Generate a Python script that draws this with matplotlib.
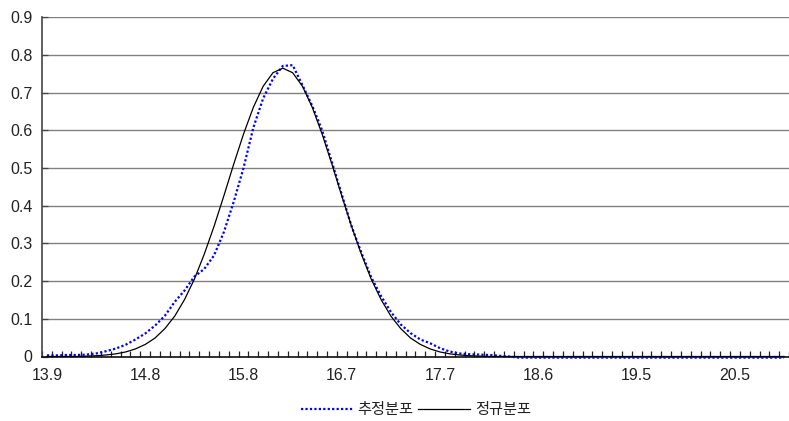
import matplotlib
matplotlib.use("Agg")
import matplotlib.pyplot as plt
import numpy as np

plt.rcParams['font.family'] = ['Liberation Sans', 'Noto Sans CJK KR', 'DejaVu Sans']

# Tick labels shown every 10 categories along the category axis
tick_labels = ["13.9", "14.8", "15.8", "16.7", "17.7", "18.6", "19.5", "20.5"]
label_every = 10
n_categories = 76

# Estimated density (추정분포)
estimated = [
    0.003, 0.003, 0.004, 0.004, 0.005, 0.008, 0.014, 0.021, 0.031, 0.045,
    0.061, 0.082, 0.108, 0.145, 0.175, 0.212, 0.232, 0.268, 0.330, 0.410,
    0.500, 0.607, 0.685, 0.737, 0.771, 0.773, 0.720, 0.665, 0.600, 0.515,
    0.430, 0.345, 0.275, 0.210, 0.160, 0.118, 0.085, 0.062, 0.045, 0.035,
    0.022, 0.013, 0.008, 0.006, 0.005, 0.004, 0.002, 0.000, -0.003, -0.003,
    -0.003, -0.003, -0.003, -0.003, -0.003, -0.003, -0.003, -0.003, -0.003, -0.003,
    -0.003, -0.003, -0.003, -0.003, -0.003, -0.003, -0.003, -0.003, -0.003, -0.003,
    -0.003, -0.003, -0.003, -0.003, -0.003, -0.003,
]

# Normal density (정규분포)
normal = [
    0.000, 0.000, 0.000, 0.000, 0.001, 0.002, 0.004, 0.007, 0.012, 0.020,
    0.032, 0.049, 0.074, 0.107, 0.151, 0.205, 0.271, 0.345, 0.426, 0.510,
    0.590, 0.661, 0.717, 0.753, 0.765, 0.753, 0.717, 0.661, 0.590, 0.510,
    0.426, 0.345, 0.271, 0.205, 0.151, 0.107, 0.074, 0.049, 0.032, 0.020,
    0.012, 0.007, 0.004, 0.002, 0.001, 0.000, 0.000, 0.000, 0.000, 0.000,
    0.000, 0.000, 0.000, 0.000, 0.000, 0.000, 0.000, 0.000, 0.000, 0.000,
    0.000, 0.000, 0.000, 0.000, 0.000, 0.000, 0.000, 0.000, 0.000, 0.000,
    0.000, 0.000, 0.000, 0.000, 0.000, 0.000,
]

series_names = ["추정분포", "정규분포"]

fig = plt.figure(figsize=(7.89, 4.21), dpi=100)
ax = fig.add_axes([42 / 789, 1 - 356.5 / 421, 1 - 42 / 789, (356.5 - 17.3) / 421])

pos = np.arange(n_categories)
ax.plot(pos, estimated, color='#0000FF', linewidth=1.6, linestyle=(0, (1, 1)),
        label=series_names[0], clip_on=False, zorder=3)
ax.plot(pos, normal, color='black', linewidth=0.9, label=series_names[1],
        zorder=4)

ax.set_xlim(-0.5, n_categories - 0.5)
ax.set_ylim(0, 0.9)

# Horizontal gridlines
yt = np.round(np.arange(0, 0.91, 0.1), 1)
ax.set_yticks(yt)
ax.set_yticklabels(["0"] + [f"{v:.1f}" for v in yt[1:]])
ax.yaxis.grid(True, color='#808080', linewidth=1.0)
ax.set_axisbelow(True)

# Category axis: tick marks between categories, labels every 10 categories
ax.set_xticks(np.arange(0, len(tick_labels) * label_every, label_every))
ax.set_xticklabels(tick_labels)
ax.set_xticks(np.arange(-0.5, n_categories, 1), minor=True)
ax.tick_params(axis='x', which='major', length=0, pad=8, labelsize=11.5,
               labelcolor='#222222')
ax.tick_params(axis='x', which='minor', direction='in', length=4.5,
               width=0.9, color='#222222')
ax.tick_params(axis='y', which='major', direction='in', length=4,
               width=0.9, color='#444444', pad=7, labelsize=11.5,
               labelcolor='#222222')

for side in ('top', 'right'):
    ax.spines[side].set_visible(False)
ax.spines['left'].set_color('#444444')
ax.spines['left'].set_linewidth(1.2)
ax.spines['bottom'].set_color('#111111')
ax.spines['bottom'].set_linewidth(1.2)

fig.legend(loc='center', bbox_to_anchor=(416 / 789, 1 - 410 / 421), ncol=2,
           frameon=False, fontsize=11, handlelength=3.4, handletextpad=0.3,
           columnspacing=0.3, labelcolor='#222222')

fig.savefig('out.png', dpi=100)
